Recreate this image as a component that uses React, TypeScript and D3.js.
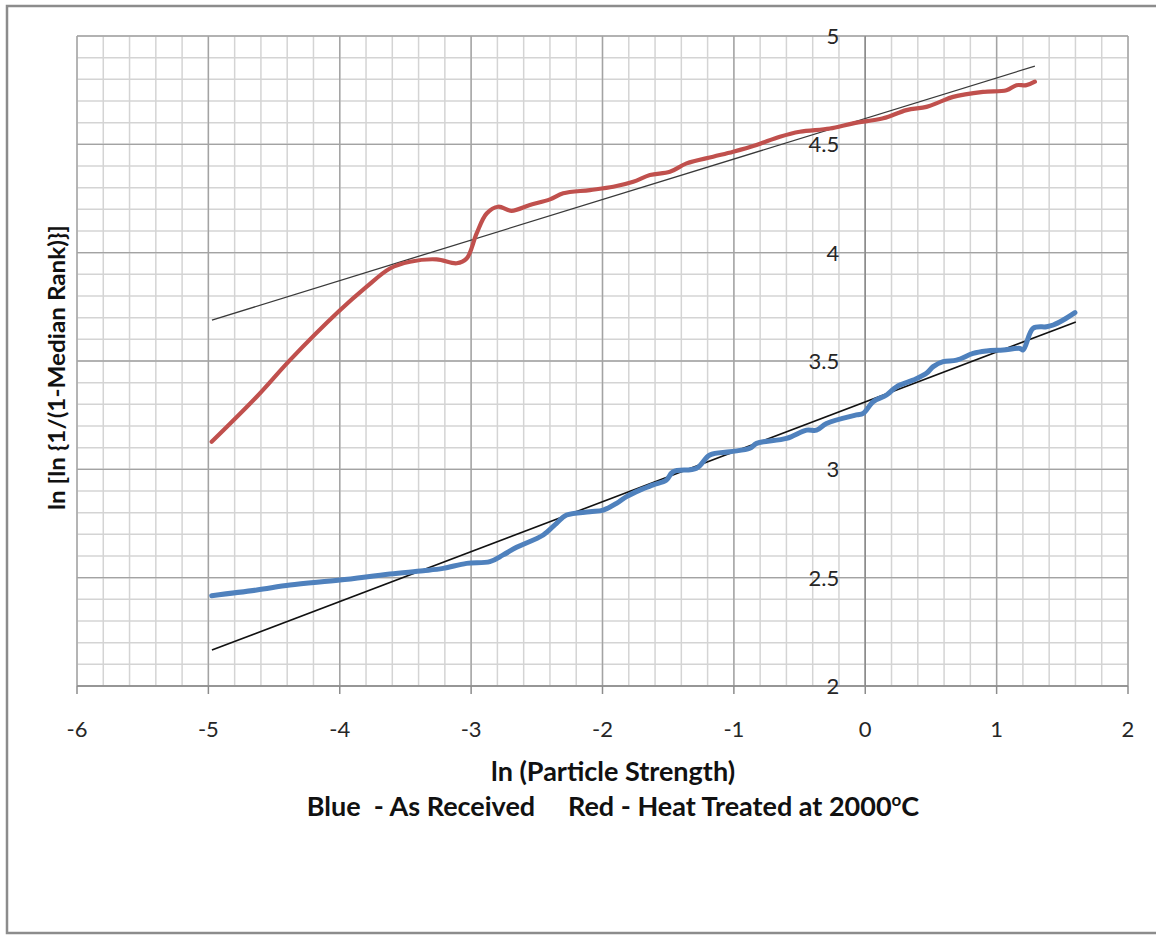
import React from 'react';
import * as d3 from 'd3';

// ln(strength) vs ln ln(1/(1-median rank))
const redX = [-4.975, -4.632, -4.379, -4.011, -3.795, -3.618, -3.466, -3.263, -3.11, -3.034, -2.958, -2.882, -2.794, -2.692, -2.553, -2.4, -2.299, -2.096, -1.918, -1.766, -1.639, -1.487, -1.36, -1.158, -1.005, -0.828, -0.65, -0.498, -0.27, -0.092, 0.137, 0.314, 0.466, 0.568, 0.669, 0.897, 1.075, 1.151, 1.227, 1.291];
const redY = [3.127, 3.335, 3.504, 3.727, 3.843, 3.927, 3.958, 3.969, 3.951, 3.973, 4.089, 4.181, 4.212, 4.193, 4.22, 4.246, 4.274, 4.289, 4.304, 4.327, 4.358, 4.373, 4.412, 4.443, 4.466, 4.497, 4.535, 4.558, 4.573, 4.597, 4.62, 4.658, 4.673, 4.696, 4.719, 4.742, 4.75, 4.773, 4.773, 4.789];

const blueX = [-4.975, -4.632, -4.379, -3.999, -3.618, -3.365, -3.213, -3.034, -2.857, -2.756, -2.654, -2.451, -2.35, -2.274, -2.096, -1.994, -1.893, -1.817, -1.716, -1.614, -1.513, -1.462, -1.284, -1.183, -1.03, -0.878, -0.827, -0.599, -0.447, -0.371, -0.295, -0.067, -0.016, 0.06, 0.162, 0.238, 0.365, 0.466, 0.517, 0.593, 0.695, 0.821, 0.923, 1.05, 1.177, 1.202, 1.278, 1.38, 1.431, 1.507, 1.596];
const blueY = [2.417, 2.443, 2.466, 2.489, 2.517, 2.532, 2.543, 2.566, 2.574, 2.605, 2.64, 2.697, 2.751, 2.789, 2.804, 2.812, 2.843, 2.874, 2.904, 2.928, 2.951, 2.989, 3.005, 3.066, 3.081, 3.097, 3.12, 3.143, 3.181, 3.181, 3.212, 3.251, 3.258, 3.312, 3.343, 3.381, 3.412, 3.443, 3.474, 3.497, 3.504, 3.535, 3.546, 3.551, 3.558, 3.551, 3.651, 3.658, 3.666, 3.689, 3.723];

// linear fits (endpoints)
const redFitX = [-4.973, 1.291];
const redFitY = [3.689, 4.861];
const blueFitX = [-4.973, 1.603];
const blueFitY = [2.166, 3.68];

const xTicks = [-6, -5, -4, -3, -2, -1, 0, 1, 2];
const yTicks = [2, 2.5, 3, 3.5, 4, 4.5, 5];

const W = 1156;
const H = 935;
const plot = { left: 77, top: 36, right: 1128, bottom: 686 };
const font = 'Lato, "Open Sans", sans-serif';

export default function App() {
  const x = d3.scaleLinear().domain([-6, 2]).range([plot.left, plot.right]);
  const y = d3.scaleLinear().domain([2, 5]).range([plot.bottom, plot.top]);

  const line = d3
    .line<[number, number]>()
    .x(d => x(d[0]))
    .y(d => y(d[1]))
    .curve(d3.curveCatmullRom.alpha(0.5));

  const straight = d3
    .line<[number, number]>()
    .x(d => x(d[0]))
    .y(d => y(d[1]));

  const red = redX.map((v, i) => [v, redY[i]] as [number, number]);
  const blue = blueX.map((v, i) => [v, blueY[i]] as [number, number]);
  const redFit = redFitX.map((v, i) => [v, redFitY[i]] as [number, number]);
  const blueFit = blueFitX.map((v, i) => [v, blueFitY[i]] as [number, number]);

  const vMinor = d3.range(0, 41).map(i => -6 + i * 0.2);
  const hMinor = d3.range(0, 31).map(i => 2 + i * 0.1);

  return (
    <svg
      width={W}
      height={H}
      style={{ position: 'absolute', left: 0, top: 0, background: '#fff' }}
    >
      {/* outer frame */}
      <rect x={7} y={6} width={W + 10} height={H - 8} fill="#fff" stroke="#8c8c8c" strokeWidth={2.5} />

      {/* minor grid */}
      <g stroke="#d4d4d4" strokeWidth={1.5}>
        {vMinor.map((v, i) => (
          <line key={'vm' + i} x1={x(v)} x2={x(v)} y1={plot.top} y2={plot.bottom} />
        ))}
        {hMinor.map((v, i) => (
          <line key={'hm' + i} x1={plot.left} x2={plot.right} y1={y(v)} y2={y(v)} />
        ))}
      </g>
      {/* major grid */}
      <g stroke="#a3a3a3" strokeWidth={1.4}>
        {xTicks.map(v => (
          <line key={'vM' + v} x1={x(v)} x2={x(v)} y1={plot.top} y2={plot.bottom} />
        ))}
        {yTicks.map(v => (
          <line key={'hM' + v} x1={plot.left} x2={plot.right} y1={y(v)} y2={y(v)} />
        ))}
      </g>
      {/* x axis ticks */}
      <g stroke="#8c8c8c" strokeWidth={1.5}>
        <line x1={plot.left} x2={plot.right} y1={plot.bottom} y2={plot.bottom} />
        <line x1={x(0)} x2={x(0)} y1={plot.top} y2={plot.bottom} />
        {xTicks.map(v => (
          <line key={'xt' + v} x1={x(v)} x2={x(v)} y1={plot.bottom} y2={plot.bottom + 8} />
        ))}
      </g>

      {/* fits */}
      <path d={straight(redFit) ?? ''} fill="none" stroke="#3a3a3a" strokeWidth={1.3} />
      <path d={straight(blueFit) ?? ''} fill="none" stroke="#111" strokeWidth={1.6} />

      {/* data curves */}
      <path d={line(red) ?? ''} fill="none" stroke="#c0504d" strokeWidth={4.2} strokeLinejoin="round" strokeLinecap="round" />
      <path d={line(blue) ?? ''} fill="none" stroke="#4f81bd" strokeWidth={5} strokeLinejoin="round" strokeLinecap="round" />

      {/* tick labels */}
      <g fontFamily={font} fontSize={22} fill="#262626">
        {xTicks.map(v => (
          <text key={'xl' + v} x={x(v)} y={737} textAnchor="middle">
            {v}
          </text>
        ))}
        {yTicks.map(v => (
          <text key={'yl' + v} x={x(0) - 26} y={y(v) + 8} textAnchor="end">
            {v}
          </text>
        ))}
      </g>

      {/* axis titles */}
      <g fontFamily={font} fontWeight="bold" fill="#111">
        <text x={613} y={781} fontSize={27} textAnchor="middle">
          ln (Particle Strength)
        </text>
        <text x={613} y={816} fontSize={27} textAnchor="middle" xmlSpace="preserve">
          {'Blue  - As Received     Red - Heat Treated at 2000'}
          <tspan fontSize={17} dy={-10}>o</tspan>
          <tspan dy={10}>C</tspan>
        </text>
        <text
          transform={`translate(65, 510) rotate(-90)`}
          fontSize={22}
          textLength={285}
          lengthAdjust="spacingAndGlyphs"
        >
          ln [ln {'{'}1/(1-Median Rank){'}'}]
        </text>
      </g>
    </svg>
  );
}
